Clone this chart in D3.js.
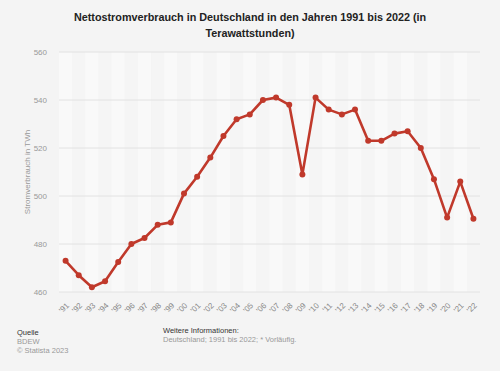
<!DOCTYPE html>
<html>
<head>
<meta charset="utf-8">
<script src="https://cdn.jsdelivr.net/npm/d3@7"></script>
<style>
  body { margin: 0; background: #f4f4f4; }
  svg { display: block; font-family: "Liberation Sans", Arial, sans-serif; }
</style>
</head>
<body>
<div class="chart"></div>
<script>
// data
var years = ["'91","'92","'93","'94","'95","'96","'97","'98","'99","'00","'01","'02","'03","'04","'05","'06",
             "'07","'08","'09","'10","'11","'12","'13","'14","'15","'16","'17","'18","'19","'20","'21","'22"];
var values = [473, 467, 462, 464.5, 472.5, 480, 482.5, 488, 489, 501, 508, 516, 525, 532, 534, 540,
              541, 538, 509, 541, 536, 534, 536, 523, 523, 526, 527, 520, 507, 491, 506, 490.5];
var yTicks = [460, 480, 500, 520, 540, 560];

var W = 500, H = 371;
var margin = {top: 52, right: 20, bottom: 79, left: 59},
    width = W - margin.left - margin.right,
    height = H - margin.top - margin.bottom;

var svg = d3.select(".chart").append("svg")
    .attr("width", W)
    .attr("height", H);

svg.append("rect").attr("width", W).attr("height", H).attr("fill", "#f4f4f4");

// title
svg.append("text")
    .attr("x", W / 2).attr("y", 21)
    .attr("text-anchor", "middle")
    .attr("font-size", "10.8px").attr("font-weight", "bold").attr("fill", "#222")
    .text("Nettostromverbrauch in Deutschland in den Jahren 1991 bis 2022 (in");
svg.append("text")
    .attr("x", W / 2).attr("y", 37)
    .attr("text-anchor", "middle")
    .attr("font-size", "10.8px").attr("font-weight", "bold").attr("fill", "#222")
    .text("Terawattstunden)");

var g = svg.append("g")
    .attr("transform", "translate(" + margin.left + "," + margin.top + ")");

var x = d3.scaleBand()
    .domain(years)
    .range([0, width]);

var y = d3.scaleLinear()
    .domain([460, 560])
    .range([height, 0]);

// alternating column stripes
g.selectAll(".stripe")
  .data(years)
  .enter()
  .append("rect")
    .attr("x", function(d) { return x(d); })
    .attr("y", 0)
    .attr("width", x.bandwidth())
    .attr("height", height)
    .attr("fill", function(d, i) { return i % 2 === 0 ? "#f9f9f9" : "#f5f5f5"; });

// grid lines
g.selectAll(".grid")
  .data(yTicks)
  .enter()
  .append("line")
    .attr("x1", 0).attr("x2", width)
    .attr("y1", function(d) { return y(d); })
    .attr("y2", function(d) { return y(d); })
    .attr("stroke", "#e2e2e2")
    .attr("stroke-width", 1);

// y axis
var yAxis = g.append("g")
    .call(d3.axisLeft(y).tickValues(yTicks).tickSize(0).tickPadding(12));
yAxis.select(".domain").remove();
yAxis.selectAll("text").attr("font-size", "8px").attr("fill", "#999")
    .attr("font-family", "Liberation Sans, Arial, sans-serif");

// x axis
var xAxis = g.append("g")
    .attr("transform", "translate(0," + height + ")")
    .call(d3.axisBottom(x).tickSize(0).tickPadding(0));
xAxis.select(".domain").remove();
xAxis.selectAll("text")
    .attr("font-size", "8px").attr("fill", "#888")
    .attr("font-family", "Liberation Sans, Arial, sans-serif")
    .attr("text-anchor", "end")
    .attr("dy", 0)
    .attr("transform", "translate(4,14) rotate(-45)");

// y label
svg.append("text")
    .attr("transform", "translate(30," + (margin.top + height / 2) + ") rotate(-90)")
    .attr("text-anchor", "middle")
    .attr("font-size", "8px").attr("fill", "#999")
    .text("Stromverbrauch in TWh");

// line
var cx = function(d, i) { return x(years[i]) + x.bandwidth() / 2; };
var line = d3.line()
    .x(cx)
    .y(function(d) { return y(d); });

g.append("path")
    .datum(values)
    .attr("fill", "none")
    .attr("stroke", "#c0392b")
    .attr("stroke-width", 2.6)
    .attr("stroke-linejoin", "round")
    .attr("d", line);

g.selectAll(".dot")
  .data(values)
  .enter()
  .append("circle")
    .attr("cx", cx)
    .attr("cy", function(d) { return y(d); })
    .attr("r", 3)
    .attr("fill", "#c0392b");

// footer
svg.append("text").attr("x", 17).attr("y", 335)
    .attr("font-size", "7.5px").attr("fill", "#333").text("Quelle");
svg.append("text").attr("x", 17).attr("y", 344)
    .attr("font-size", "7.5px").attr("fill", "#999").text("BDEW");
svg.append("text").attr("x", 17).attr("y", 353)
    .attr("font-size", "7.5px").attr("fill", "#999").text("© Statista 2023");
svg.append("text").attr("x", 163).attr("y", 333)
    .attr("font-size", "7.5px").attr("fill", "#333").text("Weitere Informationen:");
svg.append("text").attr("x", 163).attr("y", 342)
    .attr("font-size", "7.5px").attr("fill", "#999").text("Deutschland; 1991 bis 2022; * Vorläufig.");
</script>
</body>
</html>
